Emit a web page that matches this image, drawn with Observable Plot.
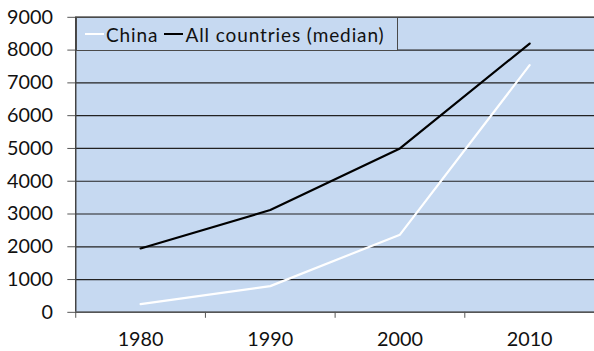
<!DOCTYPE html>
<html>
<head>
<meta charset="utf-8">
<script src="https://cdn.jsdelivr.net/npm/d3@7"></script>
<script src="https://cdn.jsdelivr.net/npm/@observablehq/plot@0.6"></script>
<style>
  html, body { margin: 0; padding: 0; background: #fff; overflow: hidden; width: 594px; height: 351px; }
  #wrap { position: relative; width: 594px; height: 351px; overflow: hidden; }
  #legend { position: absolute; left: 76px; top: 17px; width: 322px; height: 34px; box-sizing: border-box;
    border: 1px solid #4a4a4a; background: #c6d9f1; font-family: Lato, sans-serif; font-size: 19px; letter-spacing: 0.9px; color: #111;
    display: flex; align-items: center; padding-left: 8px; white-space: nowrap; }
  .sw { display: inline-block; width: 19px; height: 0; border-top: 2px solid; margin-right: 2px; position: relative; top: 0px; }
  .item { display: inline-flex; align-items: center; margin-right: 6px; }
</style>
</head>
<body>
<div id="wrap"></div>
<script>
const years = [1980, 1990, 2000, 2010];
const china = [250, 800, 2370, 7540];
const allCountries = [1950, 3120, 5000, 8200];
const seriesNames = ["China", "All countries (median)"];
const seriesColors = ["#ffffff", "#000000"];
const yTicks = [0, 1000, 2000, 3000, 4000, 5000, 6000, 7000, 8000, 9000];
const xBoundaries = [1975, 1985, 1995, 2005, 2015];

const data = [];
years.forEach((yr, i) => {
  data.push({series: seriesNames[0], year: yr, value: china[i]});
  data.push({series: seriesNames[1], year: yr, value: allCountries[i]});
});

const chart = Plot.plot({
  width: 600,
  height: 351,
  marginLeft: 76,
  marginRight: 0,
  marginTop: 17,
  marginBottom: 36,
  style: {fontFamily: "Lato, sans-serif", fontSize: "20px", color: "#111", background: "transparent", overflow: "visible"},
  x: {type: "linear", domain: [1975, 2015]},
  y: {domain: [0, 9000]},
  color: {domain: seriesNames, range: seriesColors},
  marks: [
    Plot.frame({fill: "#c6d9f1"}),
    Plot.ruleY(yTicks, {stroke: "#222", strokeWidth: 1.2}),
    Plot.axisY({ticks: yTicks, tickSize: 8, tickPadding: 15, label: null, stroke: "#555", tickFormat: d => String(d)}),
    Plot.axisX({ticks: xBoundaries, tickSize: 6, tickFormat: () => "", label: null, stroke: "#555"}),
    Plot.axisX({ticks: years, tickSize: 0, tickPadding: 20, label: null, tickFormat: d => String(d)}),
    Plot.line(data, {x: "year", y: "value", z: "series", stroke: "series", strokeWidth: 2.2}),
    Plot.ruleX([1975], {stroke: "#444", strokeWidth: 1.5}),
    Plot.ruleY([0], {stroke: "#555", strokeWidth: 1.5}),
    Plot.ruleY([9000], {stroke: "#444", strokeWidth: 1.5})
  ]
});
document.getElementById("wrap").appendChild(chart);

const legend = document.createElement("div");
legend.id = "legend";
seriesNames.forEach((name, i) => {
  const item = document.createElement("span");
  item.className = "item";
  const sw = document.createElement("span");
  sw.className = "sw";
  sw.style.borderTopColor = seriesColors[i];
  item.appendChild(sw);
  item.appendChild(document.createTextNode(name));
  legend.appendChild(item);
});
document.getElementById("wrap").appendChild(legend);
</script>
</body>
</html>
